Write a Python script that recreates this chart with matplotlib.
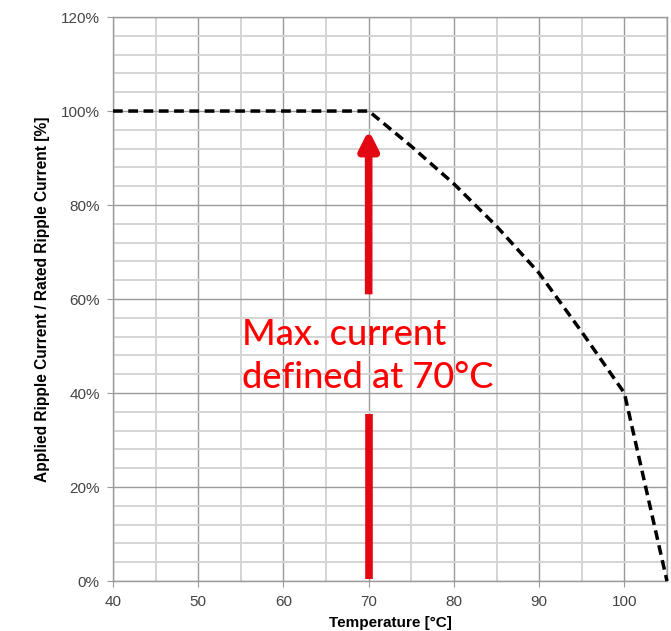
import matplotlib
matplotlib.use("Agg")
import matplotlib.pyplot as plt
from matplotlib.ticker import MultipleLocator, PercentFormatter

# Data
temperature = [40, 70, 75, 80, 85, 90, 95, 100, 105]
ripple_pct = [100, 100, 92.5, 84.5, 75.5, 65.5, 53.0, 40.0, 0.0]
x_ticks = [40, 50, 60, 70, 80, 90, 100]
y_ticks = [0, 20, 40, 60, 80, 100, 120]
annot_line1 = "Max. current"
annot_line2 = "defined at 70°C"
annot_x = 70
arrow_up = (61, 96)
arrow_low = (0.5, 35.5)

fig = plt.figure(figsize=(6.71, 6.31), dpi=100)
ax = fig.add_axes([0.1684, 0.0792, 0.8256, 0.8938])

ax.set_xlim(40, 105)
ax.set_ylim(0, 120)
ax.set_xticks(x_ticks)
ax.set_yticks(y_ticks)
ax.xaxis.set_minor_locator(MultipleLocator(5))
ax.yaxis.set_minor_locator(MultipleLocator(4))
ax.yaxis.set_major_formatter(PercentFormatter(decimals=0))

ax.grid(which="minor", color="#d4d4d4", linewidth=1.4)
ax.grid(which="major", color="#9a9a9a", linewidth=1.0)
ax.set_axisbelow(True)
for s in ax.spines.values():
    s.set_color("#9a9a9a")
    s.set_linewidth(1.0)

ax.tick_params(which="minor", length=0)
ax.tick_params(which="major", length=4, color="#9a9a9a", labelsize=11,
               labelcolor="#444444")
ax.tick_params(axis="x", which="major", pad=6)
ax.tick_params(axis="y", which="major", pad=5.5)
for lab in ax.get_xticklabels() + ax.get_yticklabels():
    lab.set_family("Liberation Sans")

ax.plot(temperature, ripple_pct, color="black", linewidth=2.5,
        linestyle=(0, (2.8, 1.6)), clip_on=False, zorder=5)

# red arrows
ax.annotate("", xy=(annot_x, arrow_up[1]), xytext=(annot_x, arrow_up[0]),
            arrowprops=dict(arrowstyle="-|>,head_length=1.1,head_width=0.55",
                            color="#e30613", lw=5.5, shrinkA=0, shrinkB=0,
                            capstyle="butt"),
            zorder=6)
ax.plot([annot_x, annot_x], list(arrow_low), color="#e30613", linewidth=5.5,
        solid_capstyle="butt", zorder=6)

ax.text(55.1, 50.2, annot_line1, color="#ff0000", fontsize=26,
        family="Lato", fontweight="medium", va="baseline", ha="left", zorder=7)
ax.text(55.1, 41.1, annot_line2, color="#ff0000", fontsize=26,
        family="Lato", fontweight="medium", va="baseline", ha="left", zorder=7)

ax.set_xlabel("Temperature [°C]", fontsize=11, fontweight="bold",
              family="Liberation Sans", labelpad=5)
ax.set_ylabel("Applied Ripple Current / Rated Ripple Current [%]", fontsize=11.2,
              fontweight="bold", family="Liberation Sans", labelpad=8)

fig.savefig("out.png", dpi=100)
